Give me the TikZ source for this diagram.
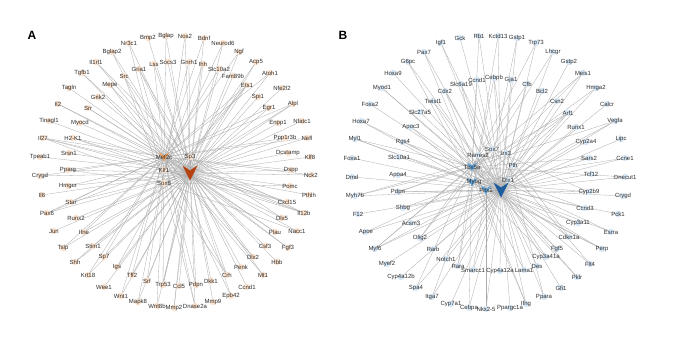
\documentclass[tikz,border=0pt]{standalone}
\usepackage{fontspec}
\setmainfont{Liberation Sans}
\usetikzlibrary{backgrounds}
\definecolor{apeach}{HTML}{FDE3CE}
\definecolor{ahub}{HTML}{F2A25E}
\definecolor{adark}{HTML}{B5420E}
\definecolor{bblue}{HTML}{D8E8F7}
\definecolor{bhub}{HTML}{5DA3DC}
\definecolor{bdark}{HTML}{1C5C9F}
\definecolor{edgec}{HTML}{ACACAC}
\definecolor{txtc}{HTML}{2E2E2E}
\tikzset{
 txt/.style={font=\fontsize{6}{7}\selectfont, text=txtc, inner sep=0},
 adot/.style={circle, fill=apeach, inner sep=0, minimum size=6.5pt},
 bdot/.style={circle, fill=bblue, inner sep=0, minimum size=6.5pt},
 hubpt/.style={circle, inner sep=0, minimum size=4pt},
 edge/.style={draw=edgec, line width=0.3pt},
 panel/.style={font=\fontsize{12}{14}\selectfont\bfseries, text=black},
}
\begin{document}
\begin{tikzpicture}[x=1pt,y=-1pt]
\useasboundingbox (0,0) rectangle (681,358);
\node[panel] (pA) at (32,35) {A};
\node[panel] (pB) at (343,35) {B};
% ---------- panel A ----------
\foreach \t/\x/\y [count=\i] in {
Bmp2/148/38, Bglap/166/36, Nos2/185/36, Bdnf/204/38, Neurod6/223/43, Ngf/239/52,
Acp5/256/62, Atoh1/270/73, Nfe2l2/282/88, Alpl/293/104, Nfatc1/302/121, Nefl/307/138,
Klf8/310/157, Nck2/311/175, Pthlh/309/195, Il12b/304/213, Nacc1/297/231, Fgf3/288/248,
Hbb/277/262, Mt1/263/275, Ccnd1/247/287, Epb42/231/296, Mmp9/213/302, Dnase2a/195/306,
Mmp2/174/308, Wnt8b/157/306, Mapk8/138/302, Wnt1/121/296, Wee1/104/287, Krt18/88/275,
Shh/75/262, Tslp/63/248, Jun/54/231, Pax6/47/213, Il6/42/195, Crygd/40/176,
Tpeab1/40/157, Il27/43/138, Tinagl1/49/121, Il2/58/104, Tagln/69/88, Tgfb1/82/73,
Il1rl1/96/62, Bglap2/112/52, Nr3c1/129/43,
Lss/154/64, Socs3/168/62, Gnrh1/189/62, Ihh/203/64, Slc10a2/219/69, Fam89b/233/76,
Ets1/247/85, Spi1/258/97, Egr1/269/108, Enpp1/278/123, Ppp1r3b/285/138, Dcstamp/288/153,
Dspp/291/170, Pomc/290/186, Cxcl15/287/202, Dlx5/282/218, Plau/275/232, Csf3/265/246,
Dlx2/253/257, Penk/241/267, Crh/227/275, Dkk1/211/281, Pdpn/196/285, Ccl5/179/286,
Trp53/163/285, Srf/147/281, Tff2/132/275, Igs/117/267, Sp7/104/257, Stim1/93/246,
Ifne/84/232, Runx2/76/218, Star/71/202, Hmgcr/68/186, Pparg/68/170, Srsn1/69/153,
H2-K1/73/138, Myocd/80/123, Srr/88/108, Grik2/98/97, Mepe/110/85, Src/124/76, Gria1/139/69}
{\node[adot, label={[txt]center:\t}] (a\i) at (\x,\y) {};}
\fill[ahub, shift={(164,157)}] (-5,-4.5) -- (0,-1.5) -- (5,-4.5) -- (0,4.5) -- cycle;
\node[hubpt, label={[txt]center:Mef2c}] (aMef) at (164,157) {};
\node[adot, label={[txt]center:Sp3}] (aSp) at (190,157) {};
\node[adot, label={[txt]center:Klf1}] (aKlf) at (164,170) {};
\node[adot, label={[txt]center:Sox6}] (aSox) at (164,183) {};
\fill[adark, shift={(190,173)}] (-7.5,-7.5) -- (0,-2.5) -- (7.5,-7.5) -- (0,7.5) -- cycle;
\node[hubpt] (aV) at (190,173) {};
% ---------- panel B ----------
\foreach \t/\x/\y [count=\i] in {
Gck/460/38, Rb1/479/36, Kctd13/498/36, Gstp1/517/38, Trp73/536/43, Lhcgr/553/52,
Gstp2/569/62, Meis1/583/73, Hmga2/596/88, Calcr/607/104, Vegfa/615/121, Lipc/621/139,
Ccne1/625/158, Onecut1/625/177, Crygd/623/196, Pck1/618/214, Esrra/611/232, Perp/602/249,
Flt4/590/264, Pklr/577/277, Gfi1/561/288, Ppara/544/297, Ifng/526/304, Ppargc1a/510/308,
Nkx2-5/486/309, Cebpa/469/308, Cyp7a1/451/304, Itga7/432/297, Spa4/416/288, Cyp4a12b/401/277,
Myef2/387/264, Myf6/375/249, Apoe/366/232, F12/358/214, Myh7b/355/196, Dmd/352/177,
Foxa1/352/158, Myl1/355/139, Hoxa7/361/121, Foxa2/370/104, Myod1/382/88, Hoxa9/393/73,
G6pc/408/62, Pax7/424/52, Igf1/441/43,
Slc6a19/461/84, Ccnd1/477/80, Cebpb/494/78, Gja1/511/80, Cfb/527/84, Bcl2/542/91,
Csn2/557/101, Arf1/568/113, Runx1/576/127, Cyp2a4/586/142, Sars2/589/158, Tcf12/591/174,
Cyp2b9/589/192, Ccnd3/585/208, Cyp3a11/578/223, Cdkn1a/569/237, Fgf5/557/249, Cyp3a41a/546/257,
Des/537/266, Lama1/524/270, Cyp4a12a/500/271, Smarcc1/473/270, Rara/458/266, Notch1/446/259,
Rarb/433/249, Olig2/420/238, Acsm3/411/223, Shbg/403/208, Pdpn/398/192, Apoa4/398/175,
Slc10a1/399/157, Rgs4/403/142, Apoc3/411/127, Slc27a5/420/112, Twist1/433/101, Cdx2/445/91}
{\node[bdot, label={[txt]center:\t}] (b\i) at (\x,\y) {};}
\node[bdot, label={[txt]center:Sox7}] (bSox) at (492,149) {};
\node[bdot, label={[txt]center:Irx3}] (bIrx) at (506,153) {};
\node[bdot, label={[txt]center:Rarres2}] (bRar) at (478,155) {};
\node[bdot, label={[txt]center:Pth}] (bPth) at (513,165) {};
\node[bdot, label={[txt]center:Dlx1}] (bDlx) at (508,180) {};
\fill[bhub, shift={(472,167)}] (-5,-4.5) -- (0,-1.5) -- (5,-4.5) -- (0,4.5) -- cycle;
\node[hubpt, label={[txt]center:Tbx5a}] (bTbx) at (472,167) {};
\fill[bhub, shift={(472,182)}] (-5,-4.5) -- (0,-1.5) -- (5,-4.5) -- (0,4.5) -- cycle;
\node[hubpt, label={[txt]center:Myog}] (bMyog) at (474,182) {};
\fill[bhub, shift={(486,190)}] (-5,-4.5) -- (0,-1.5) -- (5,-4.5) -- (0,4.5) -- cycle;
\node[hubpt, label={[txt]center:Pitx1}] (bPitx) at (486,190) {};
\fill[bdark, shift={(501,190)}] (-7.5,-7.5) -- (0,-2.5) -- (7.5,-7.5) -- (0,7.5) -- cycle;
\node[hubpt] (bV) at (501,190) {};
% ---------- edges ----------
\begin{scope}[on background layer]
\fill[white] (0,0) rectangle (681,358);
\foreach \i in {1,...,88} \draw[edge] (a\i.center) -- (aV.center);
\foreach \i in {2,4,...,88} \draw[edge] (a\i.center) -- (aMef.center);
\foreach \i in {3,10,...,88} \draw[edge] (a\i.center) -- (aSox.center);
\foreach \i in {5,16,...,88} \draw[edge] (a\i.center) -- (aKlf.center);
\foreach \i in {7,16,...,88} \draw[edge] (a\i.center) -- (aSp.center);
\foreach \h in {aMef,aSp,aKlf,aSox} \draw[edge] (\h.center) -- (aV.center);
\foreach \i in {1,...,81} \draw[edge] (b\i.center) -- (bV.center);
\foreach \i in {2,5,...,81} \draw[edge] (b\i.center) -- (bTbx.center);
\foreach \i in {3,8,...,81} \draw[edge] (b\i.center) -- (bMyog.center);
\foreach \i in {4,11,...,81} \draw[edge] (b\i.center) -- (bPitx.center);
\foreach \i in {6,19,...,81} \draw[edge] (b\i.center) -- (bSox.center);
\foreach \i in {9,22,...,81} \draw[edge] (b\i.center) -- (bIrx.center);
\foreach \h in {bSox,bIrx,bRar,bPth,bDlx,bTbx,bMyog,bPitx} \draw[edge] (\h.center) -- (bV.center);
\end{scope}
\end{tikzpicture}
\end{document}
